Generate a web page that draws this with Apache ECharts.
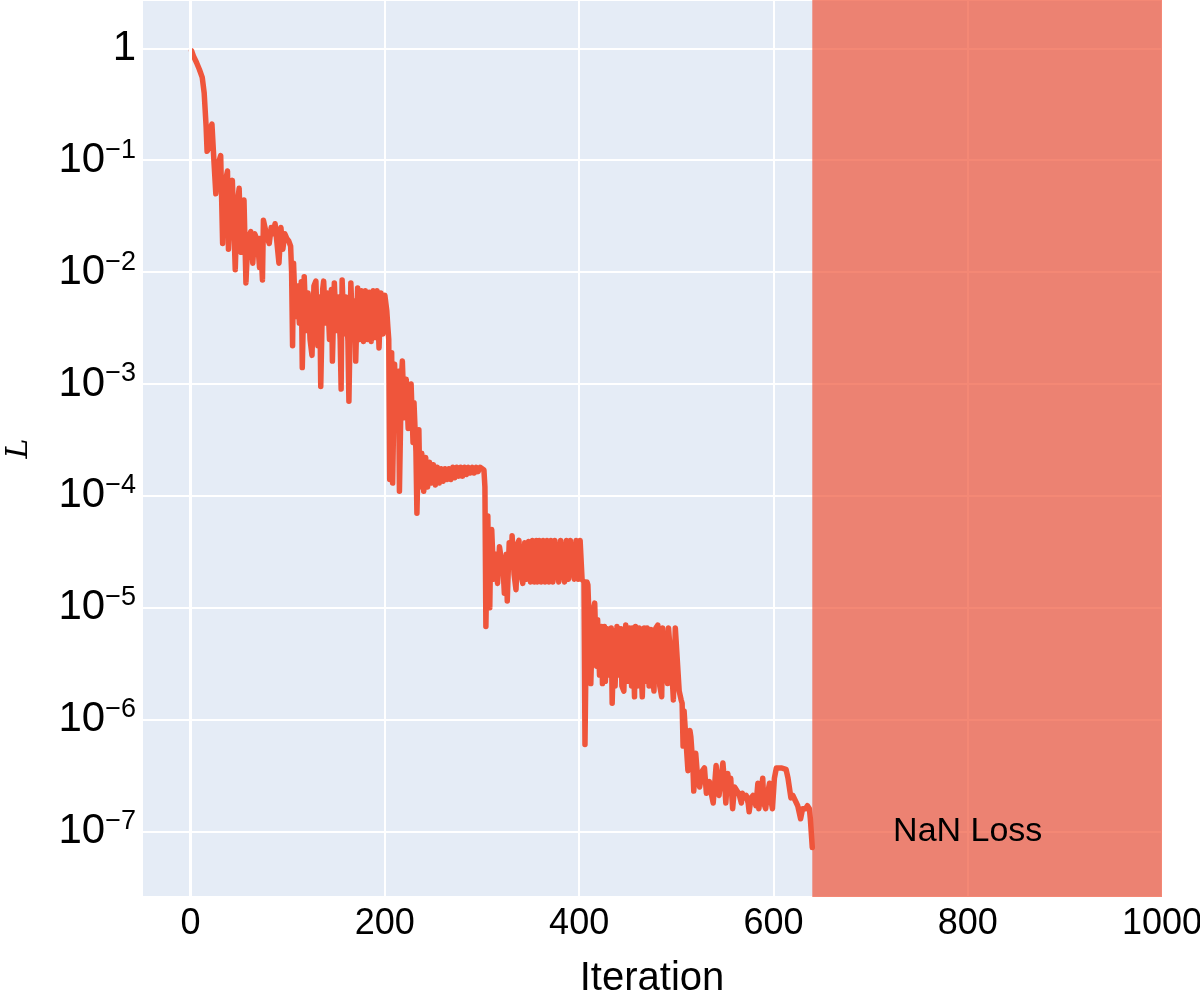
<!DOCTYPE html>
<html>
<head>
<meta charset="utf-8">
<script src="https://cdn.jsdelivr.net/npm/echarts@6/dist/echarts.min.js"></script>
<style>html,body{margin:0;padding:0;background:#fff;}#chart{width:1200px;height:1000px;}</style>
</head>
<body>
<div id="chart"></div>
<script>
// Iteration numbers (x) and loss values (y)
const iters = [
1,3,6,9,12,14,16,17,19,21,22,24,26,28,31,33,35,38,39,41,43,46,48,50,52,53,55,57,59,62,64,66,69,71,72,74,75,77,79,81,83,85,87,89,91,93,95,97,99,101,103,104,
105,106,108,110,112,114,115,117,119,121,123,125,127,129,131,133,134,136,137,139,141,143,145,146,148,150,152,154,155,156,158,160,162,163,165,167,169,170,172,174,176,178,180,182,184,186,188,190,192,194,196,198,200,202,203,204,
205,207,208,210,212,214,215,217,218,220,222,224,226,227,229,230,232,233,235,236,238,240,242,244,246,248,250,252,254,256,258,260,262,264,266,268,270,272,274,276,278,280,282,284,286,288,290,292,294,296,298,300,302,303,
304,305,306,307,308,309,310,312,314,316,318,320,322,323,325,326,328,330,331,333,335,337,338,340,342,344,346,348,350,352,354,356,357,359,361,363,365,367,369,371,373,375,377,379,381,383,385,387,389,391,393,395,397,399,401,403,405,
406,408,409,411,412,414,416,418,419,421,423,424,426,427,429,431,433,434,436,437,439,441,443,444,446,448,450,452,454,455,457,458,460,462,464,465,467,469,470,472,474,476,477,479,481,483,485,486,488,490,491,492,494,496,497,499,500,501,
503,505,506,507,508,510,512,514,515,517,518,520,522,524,525,527,529,531,532,534,536,538,540,541,543,544,546,548,550,551,553,555,556,558,560,562,564,565,567,568,570,572,574,575,577,579,580,582,584,585,587,589,590,592,594,596,597,599,601,603,608,613,615,618,620,622,625,628,630,633,635,637,638,640
];
const loss = [
0.95,0.85,0.75,0.65,0.55,0.4,0.2,0.12,0.13,0.2,0.21,0.1,0.05,0.09,0.11,0.018,0.06,0.08,0.016,0.05,0.066,0.0105,0.04,0.056,0.015,0.03,0.044,0.008,0.02,0.023,0.012,0.022,0.019,0.011,0.02,0.0085,0.029,0.028,0.02,0.018,0.025,0.022,0.027,0.028,0.012,0.025,0.016,0.022,0.02,0.019,0.017,0.01,
0.0022,0.012,0.004,0.0075,0.0035,0.0082,0.0014,0.0091,0.003,0.0065,0.0025,0.0018,0.0075,0.0083,0.0022,0.006,0.00095,0.007,0.0083,0.0035,0.0065,0.0025,0.007,0.0016,0.008,0.003,0.006,0.0025,0.0009,0.0085,0.0028,0.006,0.0024,0.0007,0.008,0.0025,0.0055,0.0016,0.0072,0.0025,0.0068,0.0024,0.0068,0.0025,0.0066,0.0024,0.0068,0.0026,0.0068,0.0021,0.0065,0.0028,0.0062,0.0045,0.0033,0.0025,
0.00014,0.0019,0.00013,0.0015,0.0004,0.0013,0.00011,0.0011,0.0016,0.0005,0.0011,0.0004,0.0009,0.001,0.0003,0.00068,0.00025,0.00007,0.00039,0.00012,0.00024,0.00011,0.00022,0.00012,0.0002,0.00013,0.00019,0.000125,0.00018,0.00013,0.000175,0.000135,0.000175,0.00014,0.000175,0.00014,0.00018,0.000145,0.00018,0.00015,0.00018,0.00015,0.00018,0.000155,0.00018,0.00016,0.00018,0.00016,0.00018,0.000165,0.00018,0.00018,0.00017,0.00012,
0.0000068,0.000025,0.000066,0.000015,0.00001,0.00004,0.00005,0.000018,0.00003,0.0000165,0.000035,0.000036,0.00002,0.0000135,0.00003,0.0000115,0.000038,0.000025,0.000044,0.00002,0.0000145,0.000038,0.00004,0.00002,0.0000165,0.000038,0.000018,0.000039,0.000017,0.00004,0.000017,0.00004,0.000017,0.00004,0.000017,0.00004,0.000017,0.00004,0.000017,0.00004,0.000017,0.00004,0.00004,0.000017,0.00004,0.00004,0.000017,0.00004,0.000018,0.00004,0.00004,0.000018,0.00004,0.000018,0.00004,0.000018,0.000017,
0.0000006,0.000017,0.000016,0.000005,0.0000021,0.000009,0.000011,0.000003,0.0000078,0.0000025,0.0000068,0.0000021,0.0000068,0.0000022,0.0000065,0.0000025,0.0000066,0.0000014,0.0000062,0.000002,0.0000068,0.0000025,0.0000065,0.000002,0.0000018,0.000007,0.0000022,0.0000066,0.000002,0.0000066,0.0000016,0.0000068,0.000002,0.0000066,0.0000025,0.0000016,0.0000066,0.0000022,0.0000066,0.000002,0.0000064,0.0000024,0.0000018,0.0000066,0.000007,0.000002,0.0000016,0.0000066,0.0000066,0.0000025,0.0000021,0.0000066,0.0000066,0.0000022,0.0000015,0.0000066,0.0000065,0.0000064,
0.0000018,0.0000015,0.0000014,0.00000058,0.0000012,0.0000012,0.00000035,0.0000008,0.0000007,0.0000004,0.00000023,0.0000005,0.0000003,0.00000025,0.00000025,0.00000035,0.00000037,0.00000022,0.00000025,0.00000028,0.00000022,0.00000018,0.0000003,0.00000039,0.00000022,0.00000021,0.0000003,0.00000041,0.00000025,0.00000018,0.00000033,0.00000022,0.0000003,0.00000016,0.00000025,0.00000025,0.00000022,0.00000021,0.00000018,0.00000022,0.0000002,0.00000021,0.00000018,0.00000015,0.0000002,0.00000021,0.0000002,0.00000017,0.00000027,0.00000016,0.00000022,0.0000003,0.00000018,0.00000016,0.00000022,0.00000027,0.0000002,0.00000016,0.0000003,0.00000037,0.00000037,0.00000036,0.0000003,0.0000002,0.00000021,0.00000021,0.00000017,0.00000013,0.00000016,0.00000016,0.00000017,0.00000016,0.00000013,0.000000072
];
// NaN-loss region and annotation
const nanStart = 640;
const nanEnd = 1000;
const nanLabel = 'NaN Loss';
const nanLabelAt = [800, 1e-7];
// Axis texts
const xTitle = 'Iteration';
const yTitle = 'L';

const seriesData = iters.map((x, i) => [x, loss[i]]);

const chart = echarts.init(document.getElementById('chart'), null, {renderer: 'canvas'});
const font = 'Liberation Sans, Arial, Helvetica, sans-serif';
chart.setOption({
  animation: false,
  backgroundColor: '#ffffff',
  grid: {left: 142, right: 38, top: 0, bottom: 103, containLabel: false, outerBoundsMode: 'none',
    show: true, backgroundColor: '#E5ECF6', borderWidth: 0},
  xAxis: {
    type: 'value', min: -50, max: 1000, splitNumber: 5,
    name: xTitle, nameLocation: 'middle', nameGap: 62,
    nameTextStyle: {fontFamily: font, fontSize: 40, color: '#000'},
    axisLine: {show: false}, axisTick: {show: false},
    axisLabel: {showMinLabel: false, fontFamily: font, fontSize: 36, color: '#000', margin: 9,
      formatter: function (v) { return String(v); }},
    splitLine: {show: true, lineStyle: {color: '#ffffff', width: 2}}
  },
  yAxis: {
    type: 'log', logBase: 10, min: 2.6e-8, max: 2.7, splitNumber: 8,
    name: yTitle, nameLocation: 'middle', nameGap: 108, nameRotate: 90,
    nameTextStyle: {fontFamily: 'DejaVu Serif, serif', fontStyle: 'italic', fontSize: 30, color: '#000'},
    axisLine: {show: false}, axisTick: {show: false},
    axisLabel: {
      showMinLabel: false, showMaxLabel: false,
      fontFamily: font, fontSize: 42, color: '#000', margin: 6,
      formatter: function (v) {
        const e = Math.round(Math.log10(v));
        if (e === 0) return '1';
        return '10{sup|' + (e < 0 ? '\u2212' + (-e) : e) + '}';
      },
      rich: {sup: {fontFamily: font, fontSize: 27, color: '#000', verticalAlign: 'top', padding: [0, 0, 20, 0]}}
    },
    splitLine: {show: true, lineStyle: {color: '#ffffff', width: 2}}
  },
  series: [
    {
      type: 'line', data: [], silent: true, z: 1,
      markLine: {silent: true, symbol: 'none', label: {show: false},
        lineStyle: {color: '#ffffff', width: 3, type: 'solid'},
        data: [{xAxis: 0}]}
    },
    {
      type: 'line', data: seriesData, showSymbol: false, symbol: 'none', z: 3,
      lineStyle: {color: '#EF553B', width: 5.5, join: 'round', cap: 'round'},
      markArea: {silent: true, itemStyle: {color: 'rgba(239,85,59,0.7)'},
        data: [[{xAxis: nanStart}, {xAxis: nanEnd}]]},
      markPoint: {silent: true, symbol: 'circle', symbolSize: 1, itemStyle: {color: 'rgba(0,0,0,0)'},
        data: [{coord: nanLabelAt, label: {show: true, position: 'inside', formatter: nanLabel,
          fontFamily: font, fontSize: 34, color: '#000'}}]}
    }
  ]
});
</script>
</body>
</html>
